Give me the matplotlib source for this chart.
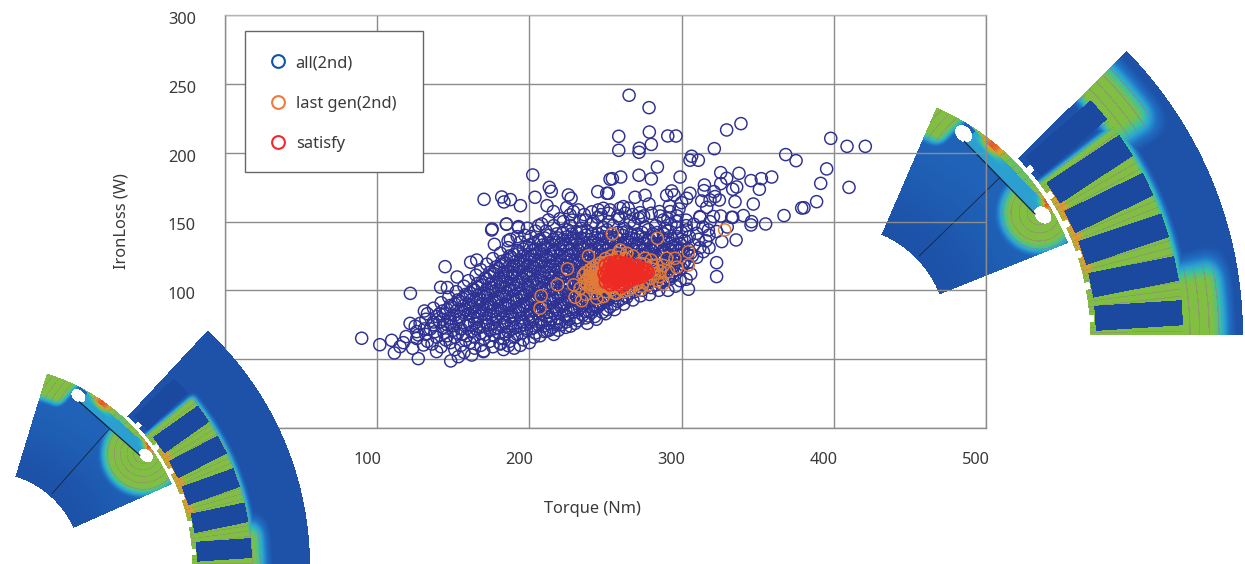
#!/usr/bin/env python
"""IronLoss against torque scatter, with two flux plots laid over the corners."""

import numpy as np
import matplotlib
matplotlib.use("Agg")
import matplotlib.pyplot as plt
from matplotlib.colors import LinearSegmentedColormap
from matplotlib.lines import Line2D
from matplotlib.patches import Rectangle
from matplotlib.transforms import ScaledTranslation

plt.rcParams['font.family'] = ['Noto Sans', 'DejaVu Sans']

W, H = 1245, 564

# -------------------- Data --------------------

x_ticks = [0, 100, 200, 300, 400, 500]
y_ticks = [0, 50, 100, 150, 200, 250, 300]
legend_labels = ['all(2nd)', 'last gen(2nd)', 'satisfy']

# points that stand free, read one by one
all_upper = [
    (265.5, 241.7), (278.6, 232.7), (278.8, 215), (258.7, 211.9), (290.9, 212.1), (296.3, 212.1),
    (280.1, 206), (272.2, 203.2), (272, 200.3), (258.7, 201.7), (329.6, 216.5), (339, 221.1),
    (321.5, 202.9), (306.6, 197.4), (305.5, 194.5), (311, 194.5), (368.4, 198.6), (375.2, 194.2),
    (398, 210.4), (408.7, 204.6), (420.7, 204.6), (395.3, 188.2), (391.4, 177.7), (410, 174.8),
    (388.7, 164.4), (380.4, 160), (378.9, 159.8), (367.3, 154.3), (284.1, 189.6), (299, 182.3),
    (272, 183.6), (280.1, 180.9), (254.5, 181.1), (260, 182.3), (325.7, 185.5), (337.7, 185),
    (329.6, 181.4), (325.7, 177.5), (315, 176.5), (314.7, 172.4), (345.6, 179.7), (352.4, 181.1),
    (359.2, 182.3), (351.1, 173.4), (336.2, 175.1), (333.6, 173.4), (321.3, 171.7), (322, 168.1),
    (318.7, 165.6), (324.8, 165.6), (313.2, 164.9), (316.5, 160.3), (335.1, 164.4), (347.1, 162.7),
    (305.5, 170.5), (303.3, 166.9), (300, 163.7), (293.5, 172.2), (290.2, 169), (295, 169.3),
    (276, 169), (269.4, 167.6), (278.6, 162.7), (251.9, 170.5), (292, 161.3), (285.4, 157.2),
    (298.3, 159.1), (292.4, 157.2), (312.1, 153), (325.7, 154), (333.6, 153), (340.6, 154.3),
    (346, 149.9), (345.6, 147.5), (355.2, 148.2), (318.7, 149.9), (272.7, 156.4), (265, 159.6),
    (259.5, 159.6), (261.7, 160.8), (253, 158.4), (248.6, 159.6), (271.6, 152.3), (288, 151.1),
    (296.8, 150), (202.2, 183.8), (170.2, 166.1), (181.8, 167.8), (183.3, 164.2), (187.5, 165.9),
    (194.1, 161.5), (203.7, 167.6), (211.6, 161.5), (213.1, 174.8), (214.4, 171.9), (215.8, 157.2),
    (225.6, 169.3), (227.4, 166.9), (224.5, 160.1), (232.2, 158.4), (244.9, 171.7), (250.8, 170.5),
    (253, 180.7), (175.5, 144.6), (184.9, 148.2), (192.8, 146.3), (198.7, 145.1), (208.1, 148.2),
    (212.5, 151.1), (245.3, 158.4), (226.7, 154.8), (228.9, 157.2), (222.3, 149.9), (233.3, 151.1),
    (242, 149.9), (323, 120.1), (323, 110), (304.5, 100.8), (299, 107), (335.8, 136.6),
    (332.9, 153), (323, 142.7), (326.4, 135.4), (314.3, 128.1), (310, 141.4), (303.4, 143.9),
    (317.6, 143.9), (320.9, 153.6), (312, 153.6), (308, 133), (316, 136), (330, 146),
    (236, 155), (241, 157), (247, 155), (252, 156), (258, 154), (263, 156), (268, 155), (275, 154),
    (280, 156), (286, 154), (291, 152), (297, 154), (303, 151), (308, 148), (314, 146), (303, 147),
    (297, 146), (293, 148), (300, 142), (305, 139), (311, 137), (318, 140), (312, 131), (306, 127),
    (310, 124), (318, 131), (300, 137), (306, 112), (303, 108), (296, 103), (291, 100), (285, 100),
    (279, 97), (273, 96), (268, 93), (262, 90), (256, 86), (250, 83), (244, 79), (238, 76),
    (216, 147), (220, 152), (228, 151), (204, 143), (197, 140), (206, 147), (192, 139), (186, 136),
]
all_lower = [
    (89.8, 65.2), (101.7, 60.5), (109.5, 63.7), (111.3, 54.5), (115, 59.1), (117.2, 62),
    (119, 66.4), (121.6, 76), (123.3, 57.9), (127, 50.4), (131, 85), (121.8, 97.8),
    (141.7, 102.2), (146.1, 102), (144.6, 117.2), (152.5, 109.7), (175.2, 143.8), (177, 133.4),
    (184.9, 148), (187.5, 137), (192.8, 145.5), (161.4, 120.4), (165.4, 122), (148.3, 48.7),
    (153.3, 51.8), (162.1, 53), (169.8, 55.5), (186.2, 59.8), (180.7, 61.5), (211.4, 70.5),
    (223.9, 73.1), (238.8, 81.4), (139, 55.5), (130.4, 60.3), (127, 67.6), (128.2, 76),
]
# the packed band, read row by row where single rings can't be told apart
all_band = [
    (151, 57), (157, 55), (164, 58), (170, 56), (176, 59), (183, 57), (190, 58),
    (136, 61), (142, 59), (148, 62), (155, 60), (161, 62), (168, 60), (174, 63), (181, 61), (187, 63), (194, 60), (200, 62),
    (126, 65), (133, 63), (139, 66), (145, 64), (151, 66), (158, 64), (164, 66), (170, 65), (177, 67), (183, 65), (190, 66), (196, 64), (203, 66),
    (126, 70), (132, 68), (138, 70), (144, 69), (150, 71), (156, 68), (162, 70), (168, 69), (174, 71), (180, 69), (186, 70), (192, 68), (198, 71), (204, 69), (210, 70), (216, 68),
    (125, 74), (131, 72), (137, 75), (143, 73), (149, 74), (155, 72), (161, 75), (167, 73), (173, 75), (179, 73), (185, 74), (191, 73), (197, 75), (203, 73), (209, 74), (215, 73), (221, 75), (227, 74),
    (132, 79), (137, 77), (143, 79), (148, 77), (154, 79), (160, 77), (166, 79), (172, 77), (178, 79), (184, 77), (190, 79), (196, 77), (202, 79), (208, 77), (214, 79), (220, 77), (226, 79), (232, 78),
    (133, 83), (139, 81), (145, 83), (151, 82), (157, 84), (163, 81), (169, 83), (175, 82), (181, 83), (187, 81), (193, 84), (199, 82), (205, 83), (211, 81), (217, 83), (223, 82), (229, 84), (235, 82), (241, 84),
    (137, 87), (143, 85), (149, 88), (155, 86), (161, 87), (167, 85), (173, 88), (179, 86), (185, 87), (191, 85), (197, 88), (203, 86), (209, 87), (215, 85), (221, 88), (227, 86), (233, 87), (239, 85), (245, 88), (251, 86),
    (142, 91), (148, 89), (154, 92), (160, 90), (166, 91), (172, 89), (178, 92), (184, 90), (190, 91), (196, 89), (202, 92), (208, 90), (214, 91), (220, 89), (226, 92), (232, 90), (238, 91), (244, 89), (250, 92), (256, 90),
    (147, 95), (153, 93), (159, 96), (165, 94), (171, 95), (177, 93), (183, 96), (189, 94), (195, 95), (201, 93), (207, 96), (213, 94), (219, 95), (225, 93), (231, 96), (237, 94), (243, 95), (249, 93), (255, 96), (261, 94),
    (152, 99), (158, 97), (164, 100), (170, 98), (176, 99), (182, 97), (188, 100), (194, 98), (200, 99), (206, 97), (212, 100), (218, 98), (224, 99), (230, 97), (236, 100), (242, 98), (248, 99), (254, 97), (260, 100), (266, 98),
    (157, 103), (163, 101), (169, 104), (175, 102), (181, 103), (187, 101), (193, 104), (199, 102), (205, 103), (211, 101), (217, 104), (223, 102), (229, 103), (235, 101), (241, 104), (247, 102), (253, 103), (259, 101), (265, 104), (271, 102), (277, 103),
    (160, 107), (166, 105), (172, 108), (178, 106), (184, 107), (190, 105), (196, 108), (202, 106), (208, 107), (214, 105), (220, 108), (226, 106), (232, 107), (238, 105), (244, 108), (250, 106), (256, 107), (262, 105), (268, 108), (274, 106), (280, 107), (286, 105), (292, 108),
    (165, 111), (171, 109), (177, 112), (183, 110), (189, 111), (195, 109), (201, 112), (207, 110), (213, 111), (219, 109), (225, 112), (231, 110), (237, 111), (243, 109), (249, 112), (255, 110), (261, 111), (267, 109), (273, 112), (279, 110), (285, 111), (291, 109), (296, 112),
    (168, 115), (174, 113), (180, 116), (186, 114), (192, 115), (198, 113), (204, 116), (210, 114), (216, 115), (222, 113), (228, 116), (234, 114), (240, 115), (246, 113), (252, 116), (258, 114), (264, 115), (270, 113), (276, 116), (282, 114), (288, 115), (294, 113), (300, 116),
    (172, 119), (178, 117), (184, 120), (190, 118), (196, 119), (202, 117), (208, 120), (214, 118), (220, 119), (226, 117), (232, 120), (238, 118), (244, 119), (250, 117), (256, 120), (262, 118), (268, 119), (274, 117), (280, 120), (286, 118), (292, 119), (298, 117), (304, 120),
    (176, 123), (182, 121), (188, 124), (194, 122), (200, 123), (206, 121), (212, 124), (218, 122), (224, 123), (230, 121), (236, 124), (242, 122), (248, 123), (254, 121), (260, 124), (266, 122), (272, 123), (278, 121), (284, 124), (290, 122), (296, 123), (302, 121),
    (181, 127), (187, 125), (193, 128), (199, 126), (205, 127), (211, 125), (217, 128), (223, 126), (229, 127), (235, 125), (241, 128), (247, 126), (253, 127), (259, 125), (265, 128), (271, 126), (277, 127), (283, 125), (289, 128), (295, 126), (301, 127), (307, 125),
    (186, 131), (192, 129), (198, 132), (204, 130), (210, 131), (216, 129), (222, 132), (228, 130), (234, 131), (240, 129), (246, 132), (252, 130), (258, 131), (264, 129), (270, 132), (276, 130), (282, 131), (288, 129), (294, 132), (300, 130),
    (194, 135), (200, 133), (206, 136), (212, 134), (218, 135), (224, 133), (230, 136), (236, 134), (242, 135), (248, 133), (254, 136), (260, 134), (266, 135), (272, 133), (278, 136), (284, 134), (290, 135), (296, 133), (302, 136),
    (201, 139), (207, 137), (213, 140), (219, 138), (225, 139), (231, 137), (237, 140), (243, 138), (249, 139), (255, 137), (261, 140), (267, 138), (273, 139), (279, 137), (285, 140), (291, 138), (297, 139),
    (211, 143), (218, 141), (225, 144), (231, 142), (238, 143), (245, 141), (251, 144), (258, 142), (264, 143), (271, 141), (278, 144), (284, 142), (291, 143),
    (227, 147), (234, 145), (241, 148), (248, 146), (255, 147), (262, 145), (269, 148), (276, 146), (283, 147), (289, 145),
    (237, 151), (245, 153), (252, 150), (259, 152), (266, 150), (273, 153),
]
# second reading of the same band, where it is solid in the picture
all_core = [
    (146, 67), (153, 69), (159, 67), (165, 72), (171, 68), (177, 72), (184, 68), (189, 72), (195, 69), (201, 72), (207, 67), (213, 71), (219, 71),
    (135, 72), (141, 77), (146, 75), (152, 76), (158, 74), (164, 76), (170, 74), (176, 76), (182, 75), (188, 76), (194, 74), (200, 77), (206, 75), (212, 76), (218, 75), (224, 77), (230, 76),
    (141, 83), (148, 80), (154, 81), (160, 83), (166, 81), (172, 80), (178, 81), (183, 80), (189, 82), (195, 80), (201, 81), (207, 79), (213, 81), (219, 80), (225, 81), (231, 80), (237, 80), (243, 81),
    (146, 86), (152, 85), (158, 86), (164, 84), (170, 86), (176, 85), (182, 85), (188, 84), (194, 86), (200, 85), (206, 85), (212, 84), (218, 86), (224, 85), (230, 86), (236, 85), (242, 86), (248, 84),
    (151, 90), (157, 89), (163, 88), (169, 90), (175, 90), (181, 89), (187, 89), (193, 88), (199, 90), (205, 88), (211, 89), (217, 88), (223, 90), (229, 88), (235, 89), (241, 88), (247, 90), (253, 88),
    (156, 94), (162, 93), (168, 93), (174, 91), (180, 94), (186, 92), (192, 93), (198, 91), (204, 94), (210, 92), (216, 93), (222, 91), (228, 94), (234, 92), (240, 93), (246, 91), (252, 94), (258, 92), (264, 95),
    (161, 98), (167, 97), (173, 97), (179, 95), (185, 98), (191, 96), (197, 97), (203, 95), (209, 98), (215, 96), (221, 97), (227, 95), (233, 98), (239, 96), (245, 97), (251, 95), (257, 98), (263, 96), (269, 99),
    (166, 102), (172, 101), (178, 100), (184, 102), (190, 100), (196, 101), (202, 100), (208, 102), (214, 100), (220, 101), (226, 99), (232, 102), (238, 100), (244, 101), (250, 99), (256, 101), (262, 99), (268, 102), (274, 100), (280, 102),
    (169, 106), (175, 105), (181, 106), (187, 104), (193, 106), (199, 104), (205, 105), (211, 104), (217, 106), (223, 104), (229, 105), (235, 104), (241, 106), (247, 104), (253, 106), (259, 104), (271, 105), (277, 106), (283, 104), (289, 107),
    (174, 110), (180, 109), (186, 109), (192, 110), (198, 111), (204, 108), (210, 109), (216, 110), (222, 110), (228, 108), (234, 109), (240, 108), (246, 110), (276, 109), (282, 109), (288, 108), (294, 110),
    (177, 114), (183, 113), (189, 113), (195, 114), (201, 114), (207, 113), (213, 113), (219, 115), (225, 114), (231, 113), (237, 113), (243, 114), (273, 115), (279, 113), (285, 113), (291, 114), (297, 115),
    (181, 118), (187, 118), (193, 117), (199, 118), (205, 118), (211, 117), (217, 117), (223, 118), (229, 118), (235, 117), (241, 117), (247, 118), (271, 117), (277, 118), (283, 117), (289, 117), (295, 118), (301, 119),
    (185, 122), (191, 121), (197, 121), (203, 122), (209, 122), (215, 121), (221, 121), (227, 122), (233, 122), (239, 121), (245, 121), (251, 122), (257, 122), (263, 121), (269, 121), (275, 122), (281, 122), (287, 121), (293, 121), (299, 122),
    (190, 126), (196, 125), (202, 125), (208, 126), (214, 126), (220, 125), (226, 125), (232, 126), (238, 126), (244, 125), (250, 125), (256, 126), (262, 126), (268, 125), (274, 125), (280, 126), (286, 126), (292, 125), (298, 125), (304, 126),
    (196, 130), (202, 129), (208, 129), (214, 130), (220, 130), (226, 129), (232, 129), (238, 130), (244, 130), (250, 129), (256, 129), (262, 130), (268, 130), (274, 129), (280, 129), (286, 130), (292, 130), (298, 129), (304, 130),
    (203, 134), (209, 133), (215, 133), (221, 134), (227, 134), (233, 133), (239, 133), (245, 134), (251, 134), (257, 133), (263, 133), (269, 134), (275, 134), (281, 133), (287, 133), (293, 134), (299, 134),
    (210, 138), (216, 137), (222, 137), (228, 138), (234, 138), (240, 137), (246, 137), (252, 138), (258, 138), (264, 137), (270, 137), (276, 138), (282, 138), (288, 137), (294, 137),
    (222, 142), (228, 141), (234, 142), (241, 141), (248, 142), (254, 141), (261, 142), (267, 141), (274, 142), (281, 141), (288, 141),
]

last_gen = [
    (328.3, 143.9), (254.5, 141), (284.1, 137.8), (238.8, 125), (225, 115.6), (218.4, 104),
    (229, 104), (230, 95), (234.4, 92.5), (207.7, 96), (207, 87), (304.5, 128), (304.5, 118.4),
    (296.8, 116.8), (288, 104.7), (295.7, 123.3), (290.2, 123.3), (281.5, 115.3), (272.7, 100.3),
    (265, 100.3), (244.2, 94.2), (248.6, 95.5), (258.5, 126.9), (276, 123.3), (235.5, 111),
    (239.9, 107.6), (233.3, 101.5), (242, 117), (244.2, 110), (240, 115), (236.6, 106.3),
    (245.3, 101.5), (250.8, 102.7), (259.6, 129.3), (285.8, 110), (291.3, 113.6), (283.7, 118.4),
    (272.7, 119.7), (262.8, 123.3), (254, 100.3), (257.4, 97.9), (279.3, 108.8), (269.4, 104),
    (238, 104), (240, 102), (242, 106), (241, 110), (243, 113), (245, 105), (245, 108), (246, 112),
    (246, 116), (248, 103), (248, 107), (248, 110), (249, 114), (249, 118), (251, 106), (251, 110),
    (252, 113), (252, 117), (252, 121), (247, 120), (250, 123), (254, 125), (256, 103), (260, 101),
    (263, 103), (267, 102), (271, 105), (275, 106), (278, 112), (282, 112), (286, 114), (288, 118),
    (280, 122), (268, 125), (264, 127), (256, 98), (250, 99), (243, 98), (237, 97),
    (239, 110), (241, 104), (243, 108), (243, 103), (244, 115), (246, 110), (246, 104), (247, 114),
    (244, 118), (241, 113), (238, 108), (237, 113), (250, 116), (250, 120), (249, 105), (253, 102),
    (258, 124), (255, 122), (262, 99), (276, 119), (281, 118), (284, 107), (274, 103), (278, 104),
]

satisfy = [
    (250, 106), (250, 110), (251, 114), (250, 118), (253, 104), (253, 108), (253, 112), (254, 116),
    (253, 120), (256, 105), (256, 109), (256, 113), (256, 117), (257, 120), (259, 104), (259, 107),
    (259, 111), (259, 115), (259, 118), (262, 105), (262, 109), (262, 112), (262, 116), (262, 119),
    (265, 106), (265, 110), (265, 113), (265, 117), (268, 108), (268, 111), (268, 114), (268, 118),
    (271, 109), (271, 112), (271, 115), (271, 118), (274, 110), (274, 113), (274, 116), (276, 112),
    (252, 107), (252, 110), (252, 116), (255, 106), (255, 111), (255, 115), (255, 119), (257, 107),
    (258, 113), (258, 117), (258, 121), (260, 109), (260, 113), (261, 117), (261, 103), (263, 107),
    (264, 111), (264, 115), (266, 108), (267, 112), (267, 116), (269, 110), (270, 113), (270, 117),
    (272, 111), (273, 114), (275, 115), (277, 115), (278, 113), (263, 120), (266, 119), (249, 112),
]

FLUX_COLOURS = [(0, '#1c49a0'), (.2, '#2170c4'), (.33, '#2ba5d2'), (.43, '#3cc2a0'),
                (.54, '#80c043'), (.72, '#dca02c'), (1, '#e83a26')]
flux_map = LinearSegmentedColormap.from_list('flux', FLUX_COLOURS)

# -------------------- Flux plots --------------------

def rise(t):
    t = np.clip(t, 0, 1)
    return t * t * (3 - 2 * t)

def fluxPicture(cx, cy, R, span, rotor_r, rotor_in, rotor_mid, half, slot_out, low, high, rotor_glow):
    yy, xx = np.mgrid[0:H, 0:W] + .5
    dx = (xx - cx) / R
    dy = (cy - yy) / R
    rad = np.hypot(dx, dy)
    ang = np.degrees(np.arctan2(dy, dx))

    stator_r = rotor_r + .01
    stator = (rad > stator_r) & (rad < 1) & (ang > 0) & (ang < span)

    # field in the stator: teeth plus the two ends of the back iron
    low_top, low_end = low
    high_top, high_start = high
    teeth = rise((slot_out + .03 - rad) / .04) * rise((ang - 2) / 2) * rise((span - 6 - ang) / 2)
    back_low = rise((low_top - rad) / .08) * rise((low_end - ang) / 7)
    back_high = rise((high_top - rad) / .09) * rise((ang - high_start) / 7) * rise((rad - slot_out + .05) / .05)
    f = np.maximum(.05, .54 * np.maximum(teeth, np.maximum(back_low, back_high)))
    hot = np.exp(-((rad - stator_r - .015) / .014) ** 2) * rise((ang - 12) / 4) * rise((36 - ang) / 4)
    f = f + .2 * hot

    # contour lines, along the teeth and round the back iron
    tooth_part = rad < slot_out
    lines = np.where(tooth_part, np.abs((ang * .85) % 1 - .5) < .08, np.abs((rad * 42) % 1 - .5) < .07)

    # slots
    slot = np.zeros_like(stator)
    notch = np.zeros_like(stator)
    step = span / 6
    for k in range(6):
        a = np.radians(ang - (step / 2 + step * k))
        u = rad * np.cos(a)
        v = rad * np.sin(a)
        slot |= (u > stator_r + .014) & (u < slot_out) & (np.abs(v) < .031)
        notch |= (u < stator_r + .012) & (np.abs(v) < .009)

    # rotor, in a frame along its own centre line
    phi = np.radians(ang - rotor_mid)
    u = rad * np.cos(phi)
    v = rad * np.sin(phi)
    rotor = (rad < rotor_r) & (rad > rotor_in) & (np.abs(ang - rotor_mid) < half)
    mag_in = rotor_r - .055
    mag_out = mag_in + .037

    g = .05 + .08 * rise((rad - rotor_in) / .25)
    tip = rise((v - .14) / .04) * rise((rad - rotor_r + .11) / .05)
    g = np.maximum(g, .54 * tip)
    round_hole = np.hypot(u - mag_in - .01, v + .13)
    g = np.maximum(g, .54 * rise((rotor_glow + .05 - round_hole) / .06))
    magnet = (u > mag_in) & (u < mag_out) & (np.abs(v) < .125)
    g = np.where(magnet, .32, g)
    rim = (u > mag_out)
    g = np.where(rim, np.maximum(g, .5), g)
    red = np.exp(-((v - .07) / .03) ** 2) + np.exp(-((v + .125) / .018) ** 2)
    g = g + .4 * red * rise((u - mag_out + .02) / .02)
    rotor_lines = (np.abs((round_hole * 50) % 1 - .5) < .07) & (g > .35) & ~magnet

    hole = (((u - mag_in - .012) / .018) ** 2 + ((np.abs(v) - .14) / .024) ** 2) < 1

    rgba = np.zeros((H, W, 4))
    rgba[stator] = flux_map(f[stator])
    mark = stator & lines & (f > .32) & ~slot
    rgba[mark, :3] = rgba[mark, :3] * .6 + np.array([.62, .42, .62]) * .4
    rgba[slot & stator] = flux_map(0.0)
    rgba[notch & stator] = (1, 1, 1, 1)
    rgba[rotor] = flux_map(g[rotor])
    mark = rotor & rotor_lines
    rgba[mark, :3] = rgba[mark, :3] * .6 + np.array([.62, .42, .62]) * .4
    rgba[rotor & hole] = (1, 1, 1, 1)
    return rgba, rad

def magnetLines(ax, cx, cy, R, rotor_r, rotor_in, rotor_mid):
    a = np.radians(rotor_mid)
    ux, uy = np.cos(a), -np.sin(a)
    vx, vy = -uy, ux
    m = rotor_r - .055
    ax.plot([cx + R * (m * ux - .125 * vx), cx + R * (m * ux + .125 * vx)],
            [cy + R * (m * uy - .125 * vy), cy + R * (m * uy + .125 * vy)], color='#16233f', lw=.9)
    ax.plot([cx + R * (rotor_in + .01) * ux, cx + R * m * ux],
            [cy + R * (rotor_in + .01) * uy, cy + R * m * uy], color='#16233f', lw=.6)

def overlayAxes(fig, zorder):
    ax = fig.add_axes([0, 0, 1, 1], zorder=zorder)
    ax.set_xlim(0, W)
    ax.set_ylim(H, 0)
    ax.axis('off')
    ax.patch.set_visible(False)
    return ax

# -------------------- Entry Point --------------------

def main():
    fig = plt.figure(figsize=(W / 100, H / 100), dpi=100, facecolor='white')

    # right picture lies under the chart, its grid shows through
    under = overlayAxes(fig, 0)
    pic, _ = fluxPicture(838, 335, 405, 44.5, .612, .27, 44.2, 22.4, .852, (1.0, 15), (1.0, 30), .08)
    under.imshow(pic, extent=(0, W, H, 0), interpolation='bilinear', aspect='auto')
    magnetLines(under, 838, 335, 405, .612, .27, 44.2)
    under.set_xlim(0, W)
    under.set_ylim(H, 0)

    ax = fig.add_axes([225 / W, (H - 428) / H, 761 / W, 413 / H], zorder=1)
    ax.patch.set_visible(False)
    ax.set_xlim(0, 500)
    ax.set_ylim(0, 300)
    ax.set_xticks(x_ticks)
    ax.set_yticks(y_ticks)
    ax.grid(True, color='#8c8c8c', lw=1)
    ax.set_axisbelow(True)
    ax.tick_params(length=0, labelsize=11.8, labelcolor='#3a3a3a')
    ax.tick_params(axis='x', pad=17.5)
    ax.tick_params(axis='y', pad=21)
    for side in ax.spines.values():
        side.set_color('#8c8c8c')
        side.set_linewidth(1)
    ax.spines['top'].set_color('#b5b5b5')
    ax.set_xlabel('Torque (Nm)', fontsize=11.8, color='#3a3a3a', va='center')
    ax.set_ylabel('IronLoss (W)', fontsize=11.8, color='#3a3a3a', va='center')
    ax.xaxis.set_label_coords((592 - 225) / 761, (428 - 509) / 413)
    ax.yaxis.set_label_coords((122 - 225) / 761, .5)

    for lab in ax.get_xticklabels():
        lab.set_transform(lab.get_transform() + ScaledTranslation(-.10, 0, fig.dpi_scale_trans))
    for lab in ax.get_yticklabels():
        lab.set_transform(lab.get_transform() + ScaledTranslation(0, -.03, fig.dpi_scale_trans))

    navy = np.array(all_upper + all_lower + all_band + all_core)
    orange = np.array(last_gen)
    red = np.array(satisfy)
    ax.scatter(navy[:, 0], navy[:, 1], s=76, facecolors='none', edgecolors='#2e3192', linewidths=1.05, zorder=2)
    ax.scatter(orange[:, 0], orange[:, 1], s=76, facecolors='none', edgecolors='#e07b39', linewidths=1.05, zorder=3)
    ax.scatter(red[:, 0], red[:, 1], s=76, facecolors='none', edgecolors='#ee2a24', linewidths=1.2, zorder=4)

    # legend box is wider on the right than matplotlib would make it
    box = Rectangle(((245 - 225) / 761, (428 - 172) / 413), 178 / 761, 141 / 413, transform=ax.transAxes,
                    facecolor='white', edgecolor='#666666', lw=1, zorder=6)
    ax.add_patch(box)
    handles = [Line2D([], [], ls='', marker='o', ms=9.2, mfc='none', mew=1.5, color=c)
               for c in ('#0a55a8', '#e87d3e', '#ee2a2e')]
    leg = ax.legend(handles, legend_labels, loc='upper left', bbox_to_anchor=((267 - 225) / 761, (428 - 55) / 413),
                    frameon=False, fontsize=11.8, labelcolor='#3a3a3a', borderaxespad=0, borderpad=0,
                    labelspacing=1.5, handletextpad=.35, handlelength=1.4)
    leg.set_zorder(7)

    # left picture covers the corner of the chart
    over = overlayAxes(fig, 2)
    pic, rad = fluxPicture(-12, 566, 322, 47, .625, .29, 48.5, 24.5, .82, (.9, 13), (.72, 60), .11)
    blank = (rad < 1) & (pic[..., 3] == 0)
    pic[blank] = (1, 1, 1, 1)
    over.imshow(pic, extent=(0, W, H, 0), interpolation='bilinear', aspect='auto')
    magnetLines(over, -12, 566, 322, .625, .29, 48.5)
    over.set_xlim(0, W)
    over.set_ylim(H, 0)

    fig.savefig('out.png', dpi=100)


if __name__ == "__main__":
    main()
